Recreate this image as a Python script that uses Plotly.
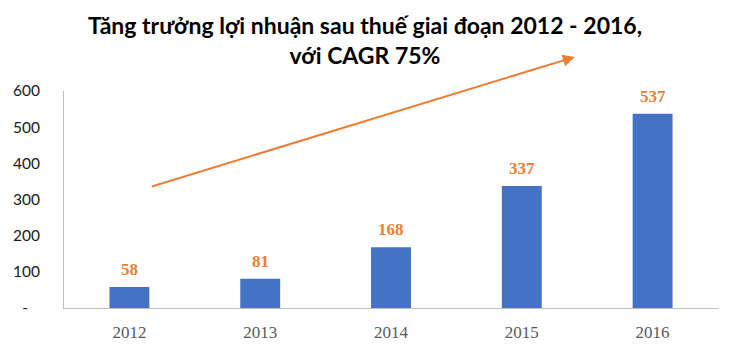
import plotly.graph_objects as go

years = ["2012", "2013", "2014", "2015", "2016"]
profit = [58, 81, 168, 337, 537]
ytick_vals = [0, 100, 200, 300, 400, 500, 600]
ytick_text = ["-\u00a0\u00a0\u00a0", "100", "200", "300", "400", "500", "600"]
title_text = "Tăng trưởng lợi nhuận sau thuế giai đoạn 2012 - 2016,<br>với CAGR 75%"

BLUE = "#4472C4"
ORANGE = "#ED7D31"

fig = go.Figure()
fig.add_trace(go.Bar(x=years, y=profit, marker=dict(color=BLUE, line=dict(width=0)),
                     hoverinfo="skip"))

annotations = []
for i, v in enumerate(profit):
    annotations.append(dict(x=i, y=v, xref="x", yref="y", text="<b>%d</b>" % v,
                            showarrow=False, yanchor="bottom", yshift=6,
                            font=dict(family="Liberation Serif", size=17, color=ORANGE)))

# title as annotation
annotations.append(dict(x=0.461, y=1.235, xref="paper", yref="paper",
                        text="<b>" + title_text + "</b>", showarrow=False,
                        xanchor="center", yanchor="middle", align="center",
                        font=dict(family="Lato", size=23, color="#000000")))

# trend arrow
annotations.append(dict(x=0.781, y=1.157, xref="x domain", yref="y domain",
                        ax=0.132, ay=0.558, axref="x domain", ayref="y domain",
                        showarrow=True, arrowhead=2, arrowsize=1.2, arrowwidth=2,
                        arrowcolor=ORANGE, text=""))

fig.update_layout(
    width=730, height=345,
    margin=dict(l=63.5, r=11.5, t=91, b=37, autoexpand=False),
    paper_bgcolor="white", plot_bgcolor="white",
    bargap=0.695,
    showlegend=False,
    annotations=annotations,
    xaxis=dict(type="category", range=[-0.5, len(years) - 0.5], autorange=False,
               automargin=False,
               showgrid=False, showline=True, linecolor="#BFBFBF", linewidth=1,
               ticks="", tickfont=dict(family="Liberation Serif", size=17, color="#595959"),
               ticklabelstandoff=9),
    yaxis=dict(range=[0, 600], autorange=False, automargin=False,
               showgrid=False, zeroline=False, showline=True,
               linecolor="#BFBFBF", linewidth=1, tickvals=ytick_vals, ticktext=ytick_text,
               ticks="", ticklabelstandoff=20,
               tickfont=dict(family="Lato", size=15.5, color="#1a1a1a")),
)

fig.write_html("out.html")
